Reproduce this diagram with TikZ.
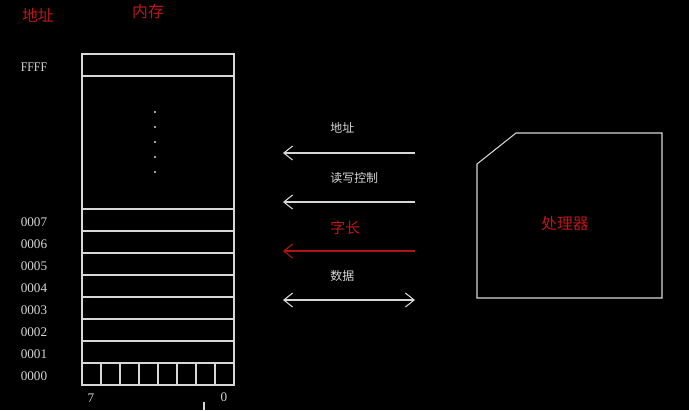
\documentclass[tikz,border=0pt]{standalone}
\usepackage{fontspec}
\setmainfont{Liberation Serif}
\newfontfamily\cjk{Noto Sans CJK SC}
\usepackage{tikz}
\usetikzlibrary{arrows.meta,positioning}
\definecolor{memline}{RGB}{215,215,215}
\definecolor{memred}{RGB}{190,22,22}
\definecolor{busred}{RGB}{175,20,20}

\begin{document}
\begin{tikzpicture}[x=0.02cm, y=-0.02cm,
  wire/.style={draw=memline, line width=0.6pt},
  memrow/.style={
    rectangle, draw=memline, line width=0.6pt,
    minimum width=3.04cm, minimum height=0.44cm,
    inner sep=0pt
  },
  addr/.style={font=\fontsize{7.5}{8}\selectfont, text=memline, inner sep=0pt},
  title/.style={font=\cjk\fontsize{9}{10}\selectfont, text=memred, inner sep=0pt},
  buslabel/.style={font=\cjk\fontsize{6.8}{8}\selectfont, text=memline, inner sep=0pt, anchor=west},
  bus/.style={-{Straight Barb[length=5pt, width=8pt]}, draw=memline, line width=0.6pt}
]
\fill[black] (0,0) rectangle (689,410);
\useasboundingbox (0,0) rectangle (689,410);

% titles
\node[title] (taddr) at (38,15) {地址};
\node[title] (tmem)  at (148,12) {内存};

% memory column
\node[memrow] (rowF) at (158,65) {};
\node[memrow, minimum height=2.66cm] (rowdots) at (158,142.5) {};
\foreach \i/\lbl in {0/0000,1/0001,2/0002,3/0003,4/0004,5/0005,6/0006,7/0007}{
  \node[memrow] (row\i) at (158,374-22*\i) {};
  \node[addr, yshift=-1pt, left=0.68cm of row\i.west] {\lbl};
}
\node[addr, yshift=-1pt, left=0.68cm of rowF.west, xscale=0.9] {FFFF};
\foreach \k in {1,...,7}
  \draw[wire] (82+19*\k,363) -- (82+19*\k,385);
\foreach \k in {0,...,4}
  \fill[memline] (155,112+15*\k) circle (0.6pt);

% bit numbers
\node[addr] (bit7) at (91,398) {7};
\node[addr] (bit0) at (224,397) {0};
\draw[wire] (204,402) -- (204,410);

% buses
\coordinate (addrR) at (415,153);  \coordinate (addrL) at (283,153);
\coordinate (ctrlR) at (415,202);  \coordinate (ctrlL) at (283,202);
\coordinate (wordR) at (415,251);  \coordinate (wordL) at (283,251);
\coordinate (dataR) at (415,300);  \coordinate (dataL) at (283,300);

\node[buslabel] (laddr) at (330,128) {地址};
\node[buslabel] (lctrl) at (330,178) {读写控制};
\node[buslabel, text=memred, font=\cjk\fontsize{8.5}{10}\selectfont] (lword) at (330,228) {字长};
\node[buslabel] (ldata) at (330,276) {数据};

\draw[bus] (addrR) -- (addrL);
\draw[bus] (ctrlR) -- (ctrlL);
\draw[bus, draw=busred] (wordR) -- (wordL);
\draw[bus, {Straight Barb[length=5pt, width=8pt]}-{Straight Barb[length=5pt, width=8pt]}] (dataR) -- (dataL);

% processor
\draw[wire] (477,164) -- (516,133) -- (662,133) -- (662,298) -- (477,298) -- cycle;
\node[title] (cpu) at (565,224) {处理器};
\end{tikzpicture}
\end{document}
